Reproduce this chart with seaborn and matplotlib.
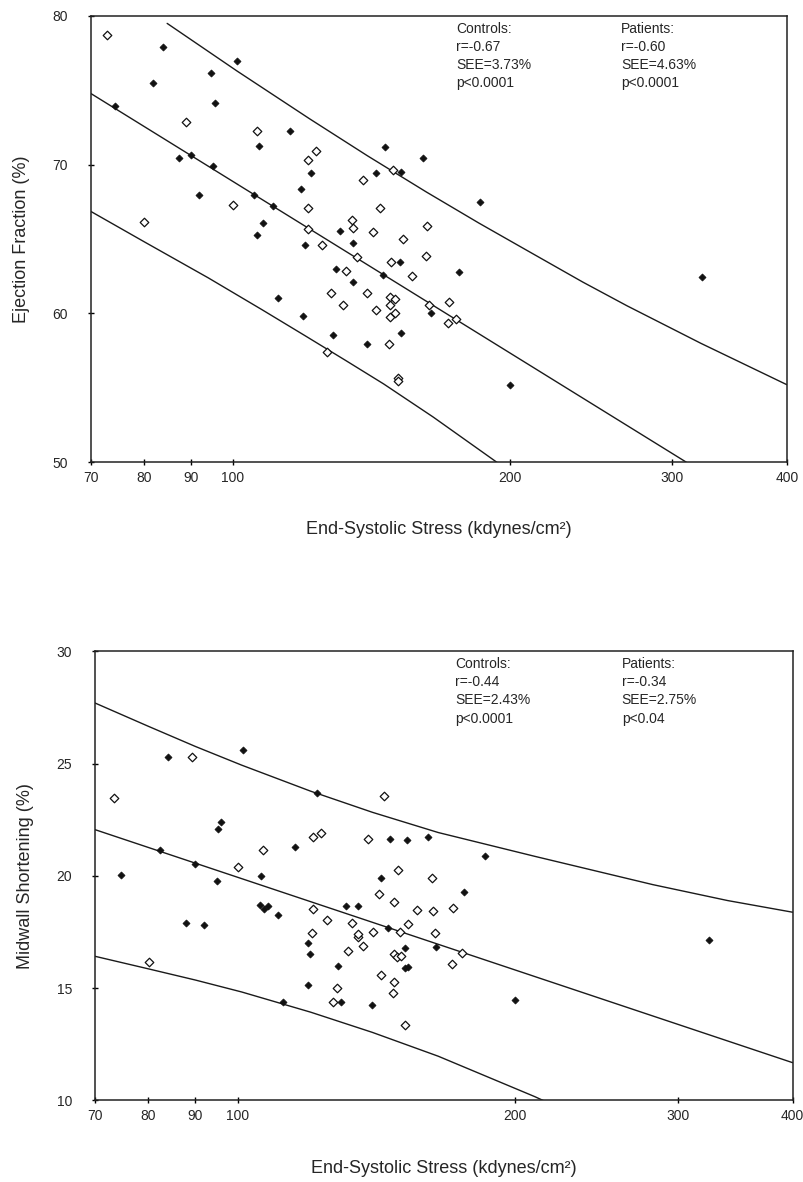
import pandas as pd
import seaborn as sns
import matplotlib.pyplot as plt
from matplotlib.ticker import FixedLocator, NullLocator, FixedFormatter

# ---- top panel: ejection fraction vs end-systolic stress ----
ef_ctrl_x = [73, 89, 80.1, 100, 106.1, 120.8, 123, 120.7, 120.7, 125, 127.7, 131.6, 126.4,
             132.8, 134.7, 134.9, 136.5, 138.6, 140, 142, 144.3, 143.2, 148.5, 148, 148.3,
             148, 150, 150, 147.7, 151.2, 151.2, 149.1, 153.2, 156.4, 162.6, 162.2, 163.5,
             171.8, 171.4, 174.9]
ef_ctrl_y = [78.75, 72.86, 66.13, 67.26, 72.26, 70.29, 70.89, 67.09, 65.65, 64.57, 61.39, 60.55, 57.4,
             62.88, 66.3, 65.77, 63.8, 68.99, 61.35, 65.48, 67.09, 60.24, 63.49, 61.08, 60.6,
             59.76, 60.0, 60.96, 57.93, 55.67, 55.48, 69.66, 65.0, 62.5, 65.91, 63.89, 60.6,
             60.77, 59.33, 59.64]
ef_pat_x = [74.5, 83.9, 81.9, 87.4, 90.1, 91.8, 94.6, 95.6, 95.2, 101.1, 105.3, 106.1, 106.8,
            107.9, 110.6, 111.9, 115.2, 118.7, 119, 119.7, 121.6, 128.5, 129.4, 130.8, 135.2,
            135.2, 139.7, 143.2, 145.4, 146.4, 151.8, 152.2, 152.2, 160.7, 164.3, 176.2, 185.6,
            200, 323.6]
ef_pat_y = [73.94, 77.93, 75.46, 70.43, 70.65, 67.93, 76.15, 74.18, 69.93, 77.0, 67.98, 65.29, 71.23,
            66.1, 67.21, 61.06, 72.26, 68.34, 59.81, 64.57, 69.45, 58.56, 62.96, 65.53, 64.74,
            62.12, 57.93, 69.45, 62.57, 71.18, 63.49, 69.54, 58.68, 70.46, 60.0, 62.81, 67.52,
            55.19, 62.48]

# regression line and prediction bands
ef_fit_x = [70, 311]
ef_fit_y = [74.8, 50.0]
ef_hi_x = [84.8, 101, 121.1, 140, 162.2, 185, 208, 240, 268, 322.6, 400]
ef_hi_y = [79.5, 76.3, 73.09, 70.6, 68.17, 66.08, 64.29, 62.11, 60.52, 57.99, 55.21]
ef_lo_x = [70, 80, 94, 107.6, 120, 132.8, 145.8, 165, 193.5, 205]
ef_lo_y = [66.87, 64.83, 62.39, 60.24, 58.47, 56.81, 55.26, 53.04, 50.0, 48.9]

# ---- bottom panel: midwall shortening vs end-systolic stress ----
ms_ctrl_x = [73.4, 89.2, 80.2, 100.1, 106.5, 120.7, 123.2, 120.7, 120.5, 125.1, 128, 126.8, 131.8,
             132.9, 134.9, 135.2, 136.7, 138.4, 140.3, 142.2, 143.2, 144.1, 147.8, 147.8, 147.5,
             147.8, 148.8, 149.3, 149.9, 150.3, 152, 153.1, 156.3, 162.3, 162.9, 163.7, 171.3,
             171, 175.2]
ms_ctrl_y = [23.47, 25.3, 16.16, 20.41, 21.15, 21.71, 21.92, 18.54, 17.47, 18.05, 15.02, 14.37, 16.64,
             17.91, 17.28, 17.39, 16.86, 21.65, 17.52, 19.2, 15.58, 23.57, 18.85, 15.27, 14.8,
             16.53, 16.37, 20.25, 17.5, 16.45, 13.35, 17.85, 18.49, 19.89, 18.44, 17.47, 18.57,
             16.08, 16.56]
ms_pat_x = [74.8, 82.3, 84.1, 87.8, 90, 92, 95, 95.3, 96, 101.4, 106.1, 105.7, 106.8, 108, 110.7,
            112.1, 115.3, 119.1, 119.8, 119.1, 121.8, 128.4, 129.4, 131, 135.1, 139.7, 143.2,
            145.5, 146.4, 152, 152, 153, 152.8, 160.8, 164.1, 176.1, 185.6, 199.9, 324.6]
ms_pat_y = [20.05, 21.16, 25.3, 17.89, 20.53, 17.81, 19.78, 22.08, 22.42, 25.6, 19.98, 18.7, 18.54,
            18.65, 18.25, 14.4, 21.27, 17.0, 16.53, 15.14, 23.68, 16.0, 14.37, 18.65, 18.65, 14.25,
            19.89, 17.7, 21.65, 16.79, 15.9, 15.96, 21.6, 21.71, 16.84, 19.28, 20.88, 14.48, 17.15]

ms_fit_x = [70, 400]
ms_fit_y = [22.06, 11.68]
ms_hi_x = [70, 80, 90, 101, 120, 140, 165, 210, 282, 340, 400]
ms_hi_y = [27.70, 26.66, 25.76, 24.93, 23.77, 22.83, 21.93, 20.87, 19.61, 18.9, 18.38]
ms_lo_x = [70, 80, 90, 101, 120, 140, 165, 210, 220]
ms_lo_y = [16.42, 15.86, 15.36, 14.83, 13.93, 13.03, 11.97, 10.17, 9.79]

x_ticks = [70, 80, 90, 100, 200, 300, 400]

ef_stats = [["Controls:", "r=-0.67", "SEE=3.73%", "p<0.0001"],
            ["Patients:", "r=-0.60", "SEE=4.63%", "p<0.0001"]]
ms_stats = [["Controls:", "r=-0.44", "SEE=2.43%", "p<0.0001"],
            ["Patients:", "r=-0.34", "SEE=2.75%", "p<0.04"]]

sns.set_style("white")
plt.rcParams['font.family'] = ['Liberation Sans', 'DejaVu Sans']

fig = plt.figure(figsize=(8.04, 11.82), dpi=100)
ax1 = fig.add_axes([0.1126, 0.609, 0.866, 0.3775])
ax2 = fig.add_axes([0.118, 0.069, 0.868, 0.380])


def draw_panel(ax, cx, cy, px, py, fx, fy, hx, hy, lx, ly, ylim, yticks, ylabel, stats, sx):
    pts = pd.concat([
        pd.DataFrame({'stress': cx, 'val': cy, 'group': 'Controls'}),
        pd.DataFrame({'stress': px, 'val': py, 'group': 'Patients'}),
    ])
    for x_, y_ in [(fx, fy), (hx, hy), (lx, ly)]:
        sns.lineplot(x=x_, y=y_, ax=ax, color='#1a1a1a', linewidth=1.0, sort=False)
    sns.scatterplot(data=pts[pts.group == 'Controls'], x='stress', y='val', ax=ax,
                    marker='D', s=19, facecolor='white', edgecolor='#111111', linewidth=0.9,
                    zorder=3)
    sns.scatterplot(data=pts[pts.group == 'Patients'], x='stress', y='val', ax=ax,
                    marker='D', s=13, color='#111111', edgecolor='#111111', linewidth=0.5,
                    zorder=4)
    ax.set_xscale('log')
    ax.set_xlim(70, 400)
    ax.set_ylim(*ylim)
    ax.xaxis.set_major_locator(FixedLocator(x_ticks))
    ax.xaxis.set_major_formatter(FixedFormatter([str(t) for t in x_ticks]))
    ax.xaxis.set_minor_locator(NullLocator())
    ax.set_yticks(yticks)
    ax.tick_params(axis='both', direction='inout', length=5, width=1, labelsize=10,
                   color='black', bottom=True, left=True)
    ax.tick_params(axis='y', pad=14)
    ax.tick_params(axis='x', pad=4)
    for sp in ax.spines.values():
        sp.set_color('#222222')
        sp.set_linewidth(1.1)
    ax.set_xlabel("End-Systolic Stress (kdynes/cm²)", fontsize=13, labelpad=26)
    ax.set_ylabel(ylabel, fontsize=13, labelpad=16)
    for i, block in enumerate(stats):
        ax.text(sx[i], 0.987, "\n".join(block), transform=ax.transAxes, ha='left', va='top',
                fontsize=10, linespacing=1.38)
    if ax.get_legend() is not None:
        ax.get_legend().remove()


draw_panel(ax1, ef_ctrl_x, ef_ctrl_y, ef_pat_x, ef_pat_y, ef_fit_x, ef_fit_y,
           ef_hi_x, ef_hi_y, ef_lo_x, ef_lo_y, (50, 80), [50, 60, 70, 80],
           "Ejection Fraction (%)", ef_stats, [0.525, 0.762])
draw_panel(ax2, ms_ctrl_x, ms_ctrl_y, ms_pat_x, ms_pat_y, ms_fit_x, ms_fit_y,
           ms_hi_x, ms_hi_y, ms_lo_x, ms_lo_y, (10, 30), [10, 15, 20, 25, 30],
           "Midwall Shortening (%)", ms_stats, [0.516, 0.755])

fig.savefig("out.png", dpi=100)
